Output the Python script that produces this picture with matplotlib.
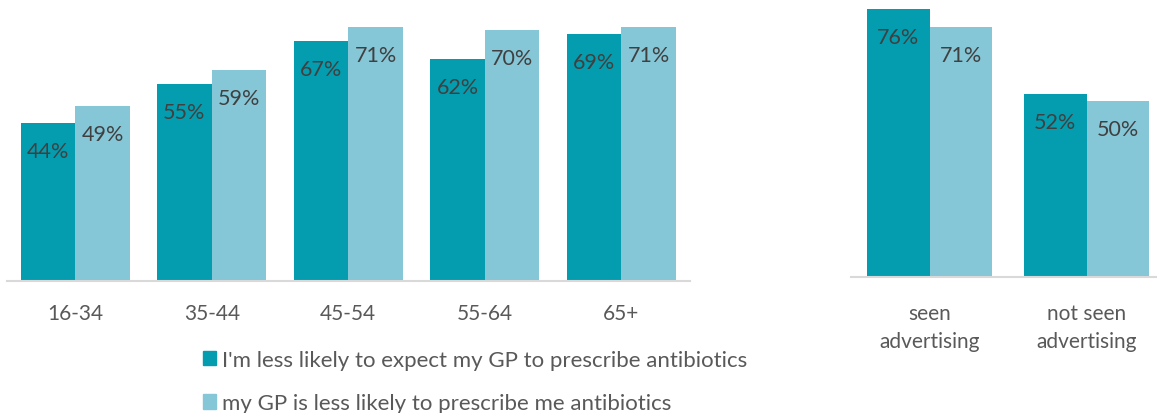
import numpy as np
import matplotlib.pyplot as plt
from matplotlib.patches import Patch

plt.rcParams['font.family'] = ['Lato', 'DejaVu Sans']

age_groups = ['16-34', '35-44', '45-54', '55-64', '65+']
age_expect = [44, 55, 67, 62, 69]
age_gp = [49, 59, 71, 70, 71]

ad_groups = ['seen\nadvertising', 'not seen\nadvertising']
ad_expect = [76, 52]
ad_gp = [71, 50]

series_names = ["I'm less likely to expect my GP to prescribe antibiotics",
                "my GP is less likely to prescribe me antibiotics"]
dark = '#039DAF'
light = '#85C6D7'
text_col = '#404040'
tick_col = '#595959'

W, H = 1157, 414
fig = plt.figure(figsize=(W / 100, H / 100), dpi=100)


def panel(rect, cats, s1, s2, pad):
    ax = fig.add_axes(rect)
    x = np.arange(len(cats))
    w = 0.4
    b1 = ax.bar(x - w / 2, s1, w, color=dark)
    b2 = ax.bar(x + w / 2, s2, w, color=light)
    for bars, vals in ((b1, s1), (b2, s2)):
        for r, v in zip(bars, vals):
            ax.annotate(f'{v}%', (r.get_x() + r.get_width() / 2, v),
                        xytext=(0, -28), textcoords='offset pixels',
                        ha='center', va='center', fontsize=15.5, color=text_col)
    ax.set_xlim(-0.5, len(cats) - 0.5)
    ax.set_ylim(0, 80)
    ax.set_yticks([])
    ax.set_xticks(x)
    ax.set_xticklabels(cats, fontsize=15, color=tick_col, linespacing=1.5)
    ax.tick_params(axis='x', length=0, pad=pad)
    for s in ['top', 'left', 'right']:
        ax.spines[s].set_visible(False)
    ax.spines['bottom'].set_color('#D9D9D9')
    ax.spines['bottom'].set_linewidth(1.5)
    ax.patch.set_alpha(0)
    return ax


panel([7 / W, (H - 282) / H, 682.5 / W, 286.4 / H], age_groups, age_expect, age_gp, 16)
panel([851 / W, (H - 278) / H, 314 / W, 281.6 / H], ad_groups, ad_expect, ad_gp, 19)

handles = [Patch(color=dark), Patch(color=light)]
fig.legend(handles, series_names, loc='upper left',
           bbox_to_anchor=(203 / W, 1 - 351 / H), frameon=False,
           fontsize=16, labelcolor=tick_col, handlelength=0.6, handleheight=0.6,
           handletextpad=0.25, labelspacing=1.05, borderpad=0, borderaxespad=0)

fig.savefig('out.png', dpi=100)
